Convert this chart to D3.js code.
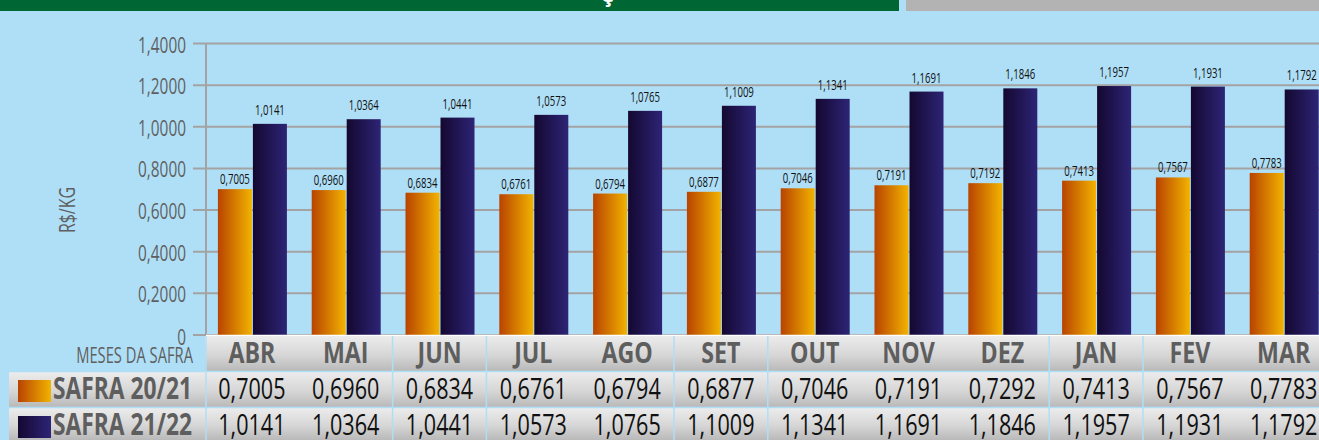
<!DOCTYPE html>
<html>
<head>
<meta charset="utf-8">
<script src="https://cdn.jsdelivr.net/npm/d3@7"></script>
<style>
  html, body { margin: 0; padding: 0; background: #afdff7; }
  svg { display: block; }
  text { font-family: "Open Sans", "Noto Sans", "Liberation Sans", sans-serif; }
</style>
</head>
<body>
<div id="chart"></div>
<script>
var months = ["ABR","MAI","JUN","JUL","AGO","SET","OUT","NOV","DEZ","JAN","FEV","MAR"];
var safra2021 = [0.7005,0.6960,0.6834,0.6761,0.6794,0.6877,0.7046,0.7191,0.7292,0.7413,0.7567,0.7783];
var safra2122 = [1.0141,1.0364,1.0441,1.0573,1.0765,1.1009,1.1341,1.1691,1.1846,1.1957,1.1931,1.1792];
// labels printed above the bars (DEZ label differs from the table in the original)
var labels2021 = ["0,7005","0,6960","0,6834","0,6761","0,6794","0,6877","0,7046","0,7191","0,7192","0,7413","0,7567","0,7783"];
var labels2122 = ["1,0141","1,0364","1,0441","1,0573","1,0765","1,1009","1,1341","1,1691","1,1846","1,1957","1,1931","1,1792"];
var yTicks = [0,0.2,0.4,0.6,0.8,1.0,1.2,1.4];
var seriesNames = ["SAFRA 20/21","SAFRA 21/22"];
var dividerAfter = [1,2,4,5,8,9];

var W = 1319, H = 440;
var svg = d3.select("#chart").append("svg").attr("width", W).attr("height", H);

var defs = svg.append("defs");
function hgrad(id, c1, c2) {
    var g = defs.append("linearGradient").attr("id", id).attr("x1","0").attr("x2","1").attr("y1","0").attr("y2","0");
    g.append("stop").attr("offset","0%").attr("stop-color", c1);
    g.append("stop").attr("offset","100%").attr("stop-color", c2);
}
hgrad("gOrange", "#b84300", "#f2b300");
hgrad("gNavy", "#140830", "#2d2476");
var vg = defs.append("linearGradient").attr("id","gCell").attr("x1","0").attr("x2","0").attr("y1","0").attr("y2","1");
vg.append("stop").attr("offset","0%").attr("stop-color","#ececec");
vg.append("stop").attr("offset","55%").attr("stop-color","#d6d6d6");
vg.append("stop").attr("offset","100%").attr("stop-color","#b9b9b9");

// condensed text: position with translate, squeeze with scaleX
function sq(sel, fx, fy, sx) {
    return sel.attr("transform", function(d,i){
        return "translate(" + (typeof fx === "function" ? fx(d,i) : fx) + "," +
               (typeof fy === "function" ? fy(d,i) : fy) + ") scale(" + sx + ",1)";
    });
}

svg.append("rect").attr("width", W).attr("height", H).attr("fill", "#afdff7");

// top banner (cropped)
svg.append("rect").attr("x",0).attr("y",0).attr("width",899).attr("height",11).attr("fill","#006633");
svg.append("rect").attr("x",906).attr("y",0).attr("width",W-906).attr("height",11).attr("fill","#b3b3b3");
svg.append("text").attr("x",607).attr("y",2).attr("text-anchor","middle")
    .attr("fill","#fff").attr("font-weight","bold").attr("font-size",22).text("Ç");

var x = d3.scaleBand().domain(months).range([205, 205 + 12*93.8]).padding(0);
var y = d3.scaleLinear().domain([0, 1.4]).range([335, 43.5]);

// grid lines
svg.append("g").selectAll("line").data(yTicks).enter().append("line")
    .attr("x1", 193).attr("x2", W)
    .attr("y1", function(d){ return y(d); }).attr("y2", function(d){ return y(d); })
    .attr("stroke", "#a3a3a3").attr("stroke-width", 2);
svg.append("line").attr("x1",206).attr("x2",206).attr("y1",y(1.4)).attr("y2",y(0))
    .attr("stroke","#a3a3a3").attr("stroke-width",2);

// tick labels
sq(svg.append("g").selectAll("text").data(yTicks).enter().append("text"),
    186, function(d){ return y(d) + (d === 0 ? 10 : 9); }, 0.7)
    .attr("text-anchor","end").attr("font-size",22).attr("fill","#5f5f5f")
    .text(function(d){ return d === 0 ? "0" : d3.format(".4f")(d).replace(".", ","); });

svg.append("text").attr("transform","translate(75,210) rotate(-90) scale(0.76,1)")
    .attr("text-anchor","middle").attr("font-size",21).attr("fill","#5f5f5f").text("R$/KG");

var bw = 34;
function cx(m){ return x(m) + x.bandwidth()/2; }

// bars
var g = svg.append("g");
g.selectAll(".b1").data(months).enter().append("rect")
    .attr("x", function(d){ return cx(d) - bw; })
    .attr("y", function(d,i){ return y(safra2021[i]); })
    .attr("width", bw)
    .attr("height", function(d,i){ return y(0) - y(safra2021[i]); })
    .attr("fill","url(#gOrange)");
g.selectAll(".b2").data(months).enter().append("rect")
    .attr("x", function(d){ return cx(d) + 1; })
    .attr("y", function(d,i){ return y(safra2122[i]); })
    .attr("width", bw)
    .attr("height", function(d,i){ return y(0) - y(safra2122[i]); })
    .attr("fill","url(#gNavy)");

sq(g.selectAll(".l1").data(months).enter().append("text"),
    function(d){ return cx(d) - bw/2; }, function(d,i){ return y(safra2021[i]) - 5; }, 0.64)
    .attr("text-anchor","middle").attr("font-size",15).attr("fill","#111")
    .text(function(d,i){ return labels2021[i]; });
sq(g.selectAll(".l2").data(months).enter().append("text"),
    function(d){ return cx(d) + 1 + bw/2; }, function(d,i){ return y(safra2122[i]) - 9; }, 0.64)
    .attr("text-anchor","middle").attr("font-size",15).attr("fill","#111")
    .text(function(d,i){ return labels2122[i]; });

// table
var rowTop = [336, 372, 408], rowH = [35, 35, 32];
var t = svg.append("g");
t.append("line").attr("x1",206).attr("x2",W).attr("y1",335.5).attr("y2",335.5).attr("stroke","#fff").attr("stroke-width",1.5);
t.selectAll(".hc").data(months).enter().append("rect")
    .attr("x", function(d){ return x(d); }).attr("y", rowTop[0])
    .attr("width", x.bandwidth()+1).attr("height", rowH[0]).attr("fill","url(#gCell)");
[1,2].forEach(function(r){
    t.append("rect").attr("x",9).attr("y",rowTop[r]).attr("width",W-9).attr("height",rowH[r]).attr("fill","url(#gCell)");
});
// row separators
[371.5, 407.5].forEach(function(yy){
    t.append("line").attr("x1",9).attr("x2",W).attr("y1",yy).attr("y2",yy).attr("stroke","#afdff7").attr("stroke-width",1.5);
});
// column dividers
t.append("line").attr("x1",206).attr("x2",206).attr("y1",336).attr("y2",H).attr("stroke","#afdff7").attr("stroke-width",1.5);
t.selectAll(".dv").data(dividerAfter).enter().append("line")
    .attr("x1", function(d){ return x(months[d]) + x.bandwidth(); })
    .attr("x2", function(d){ return x(months[d]) + x.bandwidth(); })
    .attr("y1",336).attr("y2",H).attr("stroke","#afdff7").attr("stroke-width",1.5);

sq(t.append("text"), 193, 363, 0.67).attr("text-anchor","end")
    .attr("font-size",22).attr("fill","#5f5f5f").text("MESES DA SAFRA");
sq(t.selectAll(".hl").data(months).enter().append("text"), cx, 363, 0.8)
    .attr("text-anchor","middle")
    .attr("font-size",29).attr("font-weight","bold").attr("fill","#5e5e5e")
    .text(function(d){ return d; });

var fmt = function(v){ return d3.format(".4f")(v).replace(".", ","); };
[safra2021, safra2122].forEach(function(vals, r){
    var yy = r === 0 ? 399 : 435;
    t.append("rect").attr("x",18).attr("y",rowTop[r+1]+8).attr("width",33).attr("height",22)
        .attr("fill", r === 0 ? "url(#gOrange)" : "url(#gNavy)");
    sq(t.append("text"), 53, yy, 0.76).attr("font-size",30).attr("font-weight","bold")
        .attr("fill","#5e5e5e").text(seriesNames[r]);
    sq(t.selectAll(".v"+r).data(vals).enter().append("text"),
        function(d,i){ return cx(months[i]); }, yy, 0.72)
        .attr("text-anchor","middle").attr("font-size",30).attr("fill","#111")
        .text(fmt);
});
</script>
</body>
</html>
